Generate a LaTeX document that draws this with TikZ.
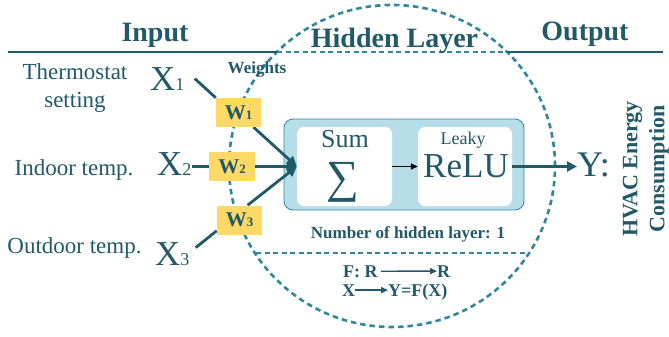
\documentclass[tikz,border=0pt]{standalone}
\usepackage{fontspec}
\setmainfont{Liberation Serif}
\usetikzlibrary{arrows.meta}
\definecolor{tealdark}{HTML}{215968}
\definecolor{tealmid}{HTML}{31859C}
\definecolor{aqualight}{HTML}{B7DEE8}
\definecolor{gold}{HTML}{FFD966}
\newcommand\fs[1]{\fontsize{#1}{#1}\selectfont}
\begin{document}
\begin{tikzpicture}[x=1pt,y=-1pt,
  txt/.style={text=tealdark, inner sep=0pt},
  hdr/.style={txt, anchor=base, font=\fs{28}\bfseries},
  feat/.style={txt, anchor=base, align=center, font=\fontsize{23}{28}\selectfont},
  xvar/.style={txt, anchor=base west, font=\fs{35}},
  wgt/.style={fill=gold, minimum width=45pt, minimum height=29pt, inner sep=0pt,
              text=tealdark, font=\fs{21}\bfseries},
  unitbox/.style={fill=white, rounded corners=7pt, minimum height=79pt, inner sep=0pt},
  conn/.style={draw=tealdark, line width=2.8pt},
  flow/.style={conn, -{Triangle[length=10pt,width=10pt]}},
  thinflow/.style={draw=tealdark, line width=1.4pt, -{Triangle[length=7pt,width=6pt]}},
  rule/.style={draw=tealdark, line width=1.1pt},
  dashrule/.style={draw=tealmid, line width=1.1pt, dash pattern=on 5pt off 3.5pt},
  ring/.style={draw=tealmid, line width=2.6pt, dash pattern=on 5.5pt off 4pt},
  formula/.style={txt, anchor=base west, font=\fs{18}\bfseries}
]
\useasboundingbox (0,0) rectangle (669,337);

% hidden-layer boundary
\coordinate (ringc) at (392,166);
\draw[ring] (ringc) ellipse [x radius=163pt, y radius=161pt];

% header rule, dashed where it crosses the boundary
\coordinate (rl) at (8,52);
\coordinate (ra) at (277,52);
\coordinate (rb) at (507,52);
\coordinate (rr) at (663,52);
\draw[rule] (rl) -- (ra);
\draw[dashrule] (ra) -- (rb);
\draw[rule] (rb) -- (rr);

% chord under the layer label
\coordinate (ca) at (256,253);
\coordinate (cb) at (529,253);
\draw[dashrule] (ca) -- (cb);

% column headers
\node[hdr] (hin) at (155,42) {Input};
\node[hdr] (hhid) at (394.5,48) {Hidden Layer};
\node[hdr] (hout) at (585,41) {Output};

% input features (base anchor of a two-line node is its last line)
\node[feat] (f1) at (75,107) {Thermostat\\setting};
\node[feat] (f2) at (74,175) {Indoor temp.};
\node[feat] (f3) at (74.5,253) {Outdoor temp.};

\node[xvar] (x1) at (150,90) {X{\fs{18}1}};
\node[xvar] (x2) at (157,175) {X{\fs{18}2}};
\node[xvar] (x3) at (155,265) {X{\fs{18}3}};

\node[txt, anchor=base, font=\fs{17}\bfseries] (wlab) at (257,74) {Weights};

% processing unit
\node[fill=aqualight, draw=tealmid, line width=0.8pt, rounded corners=9pt,
      minimum width=240pt, minimum height=91pt, inner sep=0pt] (layer) at (404,164.5) {};
\node[unitbox, minimum width=95pt] (sum) at (344.5,166.5) {};
\node[unitbox, minimum width=94pt] (relu) at (465,166.5) {};

\node[txt, anchor=base, font=\fs{26}] (sumlab) at (345,147) {Sum};
\node[txt, anchor=base, font=\fs{46}] (sigma) at (343,192) {∑};
\node[txt, anchor=base, font=\fs{18}] (leaky) at (463,144) {Leaky};
\node[txt, anchor=base, font=\fs{35}] (relulab) at (466,177) {ReLU};

% weight boxes
\node[wgt] (w1) at (238.5,112.5) {};
\node[wgt, minimum width=46pt] (w2) at (232,166.5) {};
\node[wgt] (w3) at (239.5,220) {};

% connectors
\draw[conn] ([xshift=10pt]x1.east) -- (w1.north west);
\draw[conn] (w2.west -| x2.east) -- (w2.west);
\draw[conn] ([shift={(6pt,6pt)}]x3.east) -- ([yshift=4pt]w3.south west);
\draw[flow] ([xshift=15pt]w1.south) -- (sum.west);
\draw[flow] (w2.east) -- (sum.west);
\draw[flow] ([xshift=8pt]w3.north) -- (sum.west);
\draw[line width=1.4pt, -{Triangle[length=7pt,width=6pt]}] (sum.east) -- (relu.west);

% weight labels on top of the connectors
\node[wgt] at (w1) {W{\fs{13}1}};
\node[wgt, minimum width=46pt] at (w2) {W{\fs{13}2}};
\node[wgt] at (w3) {W{\fs{13}3}};

% output
\node[txt, anchor=base west, font=\fs{36}] (yout) at (577,176) {Y:};
\draw[flow] (relu.east) -- (relu.east -| yout.west);
\node[txt, rotate=90, align=center, font=\fontsize{22}{27}\selectfont\bfseries] (ylab)
  at (646,169) {HVAC Energy\\Consumption};

% layer description
\node[txt, anchor=base, font=\fs{17}\bfseries] (nlay) at (408,238) {Number of hidden layer: 1};
\node[formula] (fa) at (343,277) {F: R};
\node[formula] (fb) at (437,277) {R};
\node[formula] (xa) at (342,296) {X};
\node[formula] (xb) at (388,296) {Y=F(X)};
\draw[thinflow] ([xshift=3pt]fa.east) -- (fb.west);
\draw[thinflow] (xa.east) -- (xa.east -| xb.west);
\end{tikzpicture}
\end{document}
